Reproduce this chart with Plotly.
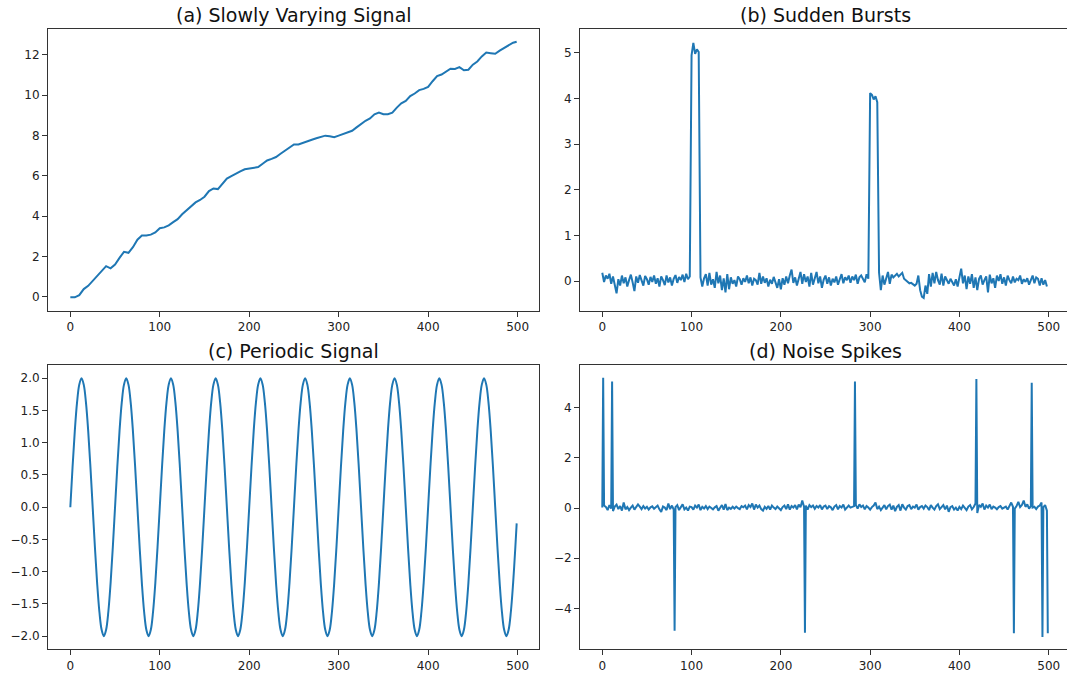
import plotly.graph_objects as go

# ---------------- data ----------------
# (a) slowly varying signal, sampled every 5 steps (last at 499)
slow_x = list(range(0, 500, 5)) + [499]
slow_y = [
    -0.03, -0.03, 0.08, 0.38, 0.54, 0.79, 1.03, 1.24, 1.52, 1.41,
    1.60, 1.93, 2.23, 2.18, 2.46, 2.83, 3.04, 3.04, 3.08, 3.19,
    3.40, 3.44, 3.54, 3.70, 3.85, 4.09, 4.30, 4.47, 4.68, 4.80,
    4.96, 5.24, 5.37, 5.34, 5.61, 5.86, 5.98, 6.11, 6.22, 6.32,
    6.35, 6.38, 6.43, 6.60, 6.76, 6.84, 6.93, 7.09, 7.25, 7.42,
    7.55, 7.55, 7.63, 7.74, 7.79, 7.86, 7.94, 7.99, 7.96, 7.91,
    7.99, 8.07, 8.15, 8.23, 8.40, 8.56, 8.73, 8.84, 9.05, 9.13,
    9.05, 9.05, 9.13, 9.38, 9.59, 9.71, 9.95, 10.08, 10.25, 10.31,
    10.41, 10.69, 10.94, 11.02, 11.18, 11.31, 11.30, 11.39, 11.23, 11.26,
    11.51, 11.67, 11.92, 12.11, 12.08, 12.05, 12.21, 12.33, 12.49, 12.60,
    12.65,
]

# (b) sudden bursts, sampled every 2 steps
burst_x = list(range(0, 500, 2))
burst_y = [
    0.18, -0.02, 0.12, 0.05, 0.16, -0.06, 0.10, -0.08, -0.27, 0.04,
    -0.10, 0.12, -0.05, 0.08, -0.12, 0.02, 0.14, -0.03, -0.22, 0.10,
    -0.04, 0.13, 0.00, -0.10, 0.11, 0.04, -0.08, 0.09, -0.02, 0.12,
    -0.06, 0.06, -0.12, 0.10, 0.02, -0.09, 0.12, -0.03, 0.08, -0.10,
    0.05, 0.13, -0.04, 0.09, 0.02, 0.14, -0.02, 0.16, 0.04, 0.10,
    4.95, 5.22, 4.98, 5.08, 5.02, 0.08, -0.12, 0.06, 0.15, -0.10,
    0.18, -0.08, 0.04, -0.15, 0.20, -0.05, 0.12, -0.20, 0.06, -0.25,
    0.15, -0.18, 0.08, -0.06, 0.02, -0.12, 0.10, 0.04, -0.08, 0.06,
    -0.02, 0.12, -0.05, 0.08, -0.10, 0.05, 0.02, -0.08, 0.18, -0.06,
    0.10, -0.04, 0.06, -0.12, 0.03, -0.06, 0.09, -0.02, -0.15, 0.04,
    -0.18, 0.06, -0.08, 0.10, -0.05, 0.12, 0.25, -0.04, 0.08, -0.10,
    0.05, 0.20, -0.06, 0.15, -0.02, 0.10, -0.12, 0.18, -0.08, 0.06,
    0.20, -0.05, 0.10, -0.15, 0.03, 0.12, -0.06, 0.08, -0.10, 0.05,
    -0.03, 0.10, -0.08, 0.04, 0.15, -0.05, 0.08, 0.02, 0.12, -0.04,
    0.10, 0.02, 0.14, -0.06, 0.08, 0.12, 0.04, -0.03, 0.15, 0.05,
    4.12, 4.08, 3.98, 4.05, 3.92, 0.18, -0.20, 0.12, -0.08, 0.05,
    0.20, -0.06, 0.14, 0.08, 0.12, 0.16, 0.10, 0.15, 0.18, 0.05,
    0.02, -0.02, -0.05, -0.04, -0.08, -0.10, -0.06, 0.12, -0.20, -0.34,
    -0.37, -0.10, -0.28, 0.15, -0.12, 0.18, -0.05, 0.20, 0.02, -0.08,
    0.16, -0.10, 0.10, 0.02, -0.06, 0.05, -0.02, -0.10, 0.04, -0.12,
    0.08, 0.27, -0.05, 0.12, -0.18, 0.10, -0.06, 0.15, -0.15, 0.08,
    -0.20, 0.05, 0.12, -0.08, 0.02, 0.10, -0.25, 0.14, -0.05, 0.06,
    -0.15, 0.12, 0.00, 0.15, -0.06, 0.08, -0.10, 0.12, 0.02, -0.05,
    0.10, -0.03, 0.05, 0.02, 0.12, -0.06, 0.04, -0.02, 0.06, -0.08,
    0.02, 0.12, -0.05, 0.08, 0.05, -0.10, 0.06, -0.08, 0.02, -0.12,
]

# (c) periodic signal, sampled every 2.5 steps (last at 499)
periodic_x = [i * 2.5 for i in range(200)] + [499]
periodic_y = [
    0.00, 0.62, 1.18, 1.62, 1.90, 2.00, 1.90, 1.62, 1.18, 0.62, 0.00, -0.62, -1.18, -1.62, -1.90, -2.00, -1.90, -1.62, -1.18, -0.62,
    0.00, 0.62, 1.18, 1.62, 1.90, 2.00, 1.90, 1.62, 1.18, 0.62, 0.00, -0.62, -1.18, -1.62, -1.90, -2.00, -1.90, -1.62, -1.18, -0.62,
    0.00, 0.62, 1.18, 1.62, 1.90, 2.00, 1.90, 1.62, 1.18, 0.62, 0.00, -0.62, -1.18, -1.62, -1.90, -2.00, -1.90, -1.62, -1.18, -0.62,
    0.00, 0.62, 1.18, 1.62, 1.90, 2.00, 1.90, 1.62, 1.18, 0.62, 0.00, -0.62, -1.18, -1.62, -1.90, -2.00, -1.90, -1.62, -1.18, -0.62,
    0.00, 0.62, 1.18, 1.62, 1.90, 2.00, 1.90, 1.62, 1.18, 0.62, 0.00, -0.62, -1.18, -1.62, -1.90, -2.00, -1.90, -1.62, -1.18, -0.62,
    0.00, 0.62, 1.18, 1.62, 1.90, 2.00, 1.90, 1.62, 1.18, 0.62, 0.00, -0.62, -1.18, -1.62, -1.90, -2.00, -1.90, -1.62, -1.18, -0.62,
    0.00, 0.62, 1.18, 1.62, 1.90, 2.00, 1.90, 1.62, 1.18, 0.62, 0.00, -0.62, -1.18, -1.62, -1.90, -2.00, -1.90, -1.62, -1.18, -0.62,
    0.00, 0.62, 1.18, 1.62, 1.90, 2.00, 1.90, 1.62, 1.18, 0.62, 0.00, -0.62, -1.18, -1.62, -1.90, -2.00, -1.90, -1.62, -1.18, -0.62,
    0.00, 0.62, 1.18, 1.62, 1.90, 2.00, 1.90, 1.62, 1.18, 0.62, 0.00, -0.62, -1.18, -1.62, -1.90, -2.00, -1.90, -1.62, -1.18, -0.62,
    0.00, 0.62, 1.18, 1.62, 1.90, 2.00, 1.90, 1.62, 1.18, 0.62, 0.00, -0.62, -1.18, -1.62, -1.90, -2.00, -1.90, -1.62, -1.18, -0.62,
    -0.25,
]

# (d) noise baseline, sampled every 2 steps, plus isolated spikes
noise_x = list(range(0, 500, 2))
noise_y = [
    0.02, 0.10, 0.05, -0.08, 0.12, -0.02, -0.12, 0.06, 0.14, -0.04,
    0.08, -0.10, 0.22, -0.05, 0.04, -0.08, 0.02, 0.10, -0.06, 0.03,
    0.15, 0.06, -0.04, 0.08, -0.02, 0.05, -0.06, 0.03, 0.07, -0.03,
    0.04, 0.10, -0.05, -0.15, 0.06, 0.02, -0.08, 0.18, -0.04, 0.10,
    -0.06, 0.04, 0.12, -0.08, 0.05, 0.15, -0.05, 0.02, -0.10, 0.06,
    0.04, -0.06, 0.10, 0.02, 0.14, -0.08, 0.05, -0.02, 0.08, -0.04,
    0.06, 0.02, -0.05, 0.03, 0.08, -0.10, 0.04, 0.12, -0.06, 0.16,
    -0.08, 0.02, -0.03, 0.05, -0.02, 0.06, 0.00, -0.04, 0.08, 0.03,
    0.10, -0.05, 0.12, 0.04, 0.18, -0.06, 0.14, 0.02, 0.10, -0.04,
    -0.10, 0.05, -0.03, 0.08, -0.06, 0.10, 0.02, -0.04, 0.06, 0.00,
    -0.08, 0.04, 0.10, -0.04, 0.15, -0.06, 0.08, 0.02, 0.12, -0.05,
    0.14, 0.03, 0.30, 0.05, 0.10, -0.06, 0.12, 0.04, 0.10, -0.03,
    0.08, 0.02, 0.12, -0.05, 0.06, 0.10, -0.04, 0.08, 0.03, -0.08,
    0.06, 0.12, -0.05, 0.08, 0.02, 0.14, -0.06, 0.04, 0.10, 0.02,
    0.05, 0.08, 0.12, -0.02, 0.15, 0.04, 0.10, -0.05, 0.08, 0.02,
    -0.06, 0.04, 0.10, 0.22, -0.04, 0.06, -0.08, 0.02, 0.12, -0.05,
    0.08, 0.14, -0.06, 0.10, -0.12, 0.05, 0.12, -0.10, 0.15, 0.02,
    -0.06, 0.08, 0.12, -0.04, 0.06, 0.02, 0.14, -0.06, 0.04, 0.08,
    -0.02, 0.10, 0.04, -0.08, 0.12, 0.02, -0.06, 0.08, 0.15, -0.04,
    0.06, 0.12, -0.05, 0.10, -0.15, 0.04, 0.08, -0.06, 0.02, -0.10,
    0.05, -0.04, 0.10, 0.02, -0.08, 0.06, 0.12, -0.05, 0.04, 0.18,
    -0.20, 0.12, 0.05, 0.18, -0.06, 0.10, 0.02, 0.14, -0.04, 0.06,
    0.02, -0.05, 0.04, 0.08, -0.02, 0.03, 0.06, -0.06, 0.10, 0.22,
    0.05, -0.02, 0.08, 0.25, 0.04, 0.12, 0.30, 0.05, 0.15, -0.02,
    0.08, 0.02, 0.05, -0.04, 0.06, 0.10, 0.22, 0.04, 0.12, -0.10,
]
spike_x = [1, 11, 81, 227, 283, 419, 461, 481, 493, 499]
spike_y = [5.20, 5.05, -4.90, -4.98, 5.05, 5.15, -5.00, 5.00, -5.15, -5.00]

titles = ["(a) Slowly Varying Signal", "(b) Sudden Bursts",
          "(c) Periodic Signal", "(d) Noise Spikes"]

# merge spikes into the noise series
merged = sorted(zip(noise_x + spike_x, noise_y + spike_y))
spikes_x = [p[0] for p in merged]
spikes_y = [p[1] for p in merged]

# ---------------- figure ----------------
W, H = 1067, 673
BLUE = "#1f77b4"
FONT = "DejaVu Sans"

fig = go.Figure()

series = [
    (slow_x, slow_y, "linear"),
    (burst_x, burst_y, "linear"),
    (periodic_x, periodic_y, "spline"),
    (spikes_x, spikes_y, "linear"),
]
for i, (xs, ys, shape) in enumerate(series):
    n = "" if i == 0 else str(i + 1)
    fig.add_trace(go.Scatter(
        x=xs, y=ys, mode="lines",
        line=dict(color=BLUE, width=2, shape=shape),
        xaxis="x" + n, yaxis="y" + n, showlegend=False,
    ))

xdom_left = [48 / W, 539 / W]
xdom_right = [580 / W, 1.0]
ydom_top = [1 - 313 / H, 1 - 29 / H]
ydom_bot = [1 - 654 / H, 1 - 368 / H]

axis_common = dict(
    showgrid=False, zeroline=False, showline=True,
    linecolor="#333333", linewidth=1,
    ticks="outside", ticklen=5, tickwidth=1, tickcolor="#333333",
    tickfont=dict(family=FONT, size=12, color="#222222"),
)

panels = [
    dict(xd=xdom_left, yd=ydom_top, xr=[-24.95, 523.95], yr=[-0.69, 13.29],
         ytick=dict(tick0=0, dtick=2), ymirror=True),
    dict(xd=xdom_right, yd=ydom_top, xr=[-24.95, 520.5], yr=[-0.65, 5.53],
         ytick=dict(tick0=0, dtick=1), ymirror=False),
    dict(xd=xdom_left, yd=ydom_bot, xr=[-24.95, 523.95], yr=[-2.2, 2.2],
         ytick=dict(tick0=0, dtick=0.5, tickformat=".1f"), ymirror=True),
    dict(xd=xdom_right, yd=ydom_bot, xr=[-24.95, 520.5], yr=[-5.63, 5.70],
         ytick=dict(tick0=0, dtick=2), ymirror=False),
]

layout = dict(
    width=W, height=H, autosize=False,
    margin=dict(l=0, r=0, t=0, b=0),
    paper_bgcolor="white", plot_bgcolor="white",
    font=dict(family=FONT, color="#222222"),
    annotations=[],
)
for i, p in enumerate(panels):
    n = "" if i == 0 else str(i + 1)
    layout["xaxis" + n] = dict(
        domain=p["xd"], range=p["xr"], anchor="y" + n,
        tick0=0, dtick=100, mirror=True, **axis_common,
    )
    layout["yaxis" + n] = dict(
        domain=p["yd"], range=p["yr"], anchor="x" + n,
        mirror=p["ymirror"], **p["ytick"], **axis_common,
    )
    left_px = p["xd"][0] * W
    right_px = 539 if i % 2 == 0 else 1070
    layout["annotations"].append(dict(
        text=titles[i], xref="paper", yref="paper",
        x=(left_px + right_px) / 2 / W, y=p["yd"][1],
        xanchor="center", yanchor="bottom", yshift=1, showarrow=False,
        font=dict(family=FONT, size=19, color="#111111"),
    ))

fig.update_layout(**layout)
fig.write_html("out.html")
